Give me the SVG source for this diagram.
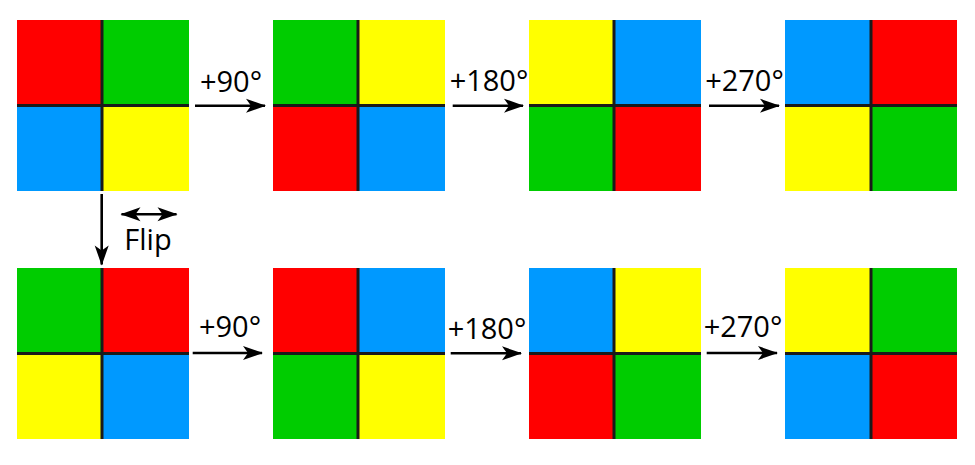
<svg xmlns="http://www.w3.org/2000/svg" width="975" height="465" viewBox="0 0 975 465">
<defs>
<style>
.r{fill:#ff0000}.g{fill:#00cc00}.b{fill:#0099ff}.y{fill:#ffff00}
.div{stroke:#1a1a1a;stroke-width:3;fill:none}
.conn{stroke:#000;stroke-width:2.6;fill:none}
.lbl{font-family:"Open Sans","Noto Sans","Liberation Sans",sans-serif;font-size:29px;fill:#000;text-anchor:middle}
</style>
<marker id="ah" markerUnits="userSpaceOnUse" markerWidth="24" markerHeight="16" viewBox="-20 -8 22 16" refX="0" refY="0" orient="auto-start-reverse">
<path d="M1,0 L-19,-7 L-14,0 L-19,7 Z" fill="#000"/>
</marker>
</defs>
<rect width="975" height="465" fill="#fff"/>

<g id="top1" transform="translate(17,20)">
<rect class="r" width="86" height="86"/><rect class="g" x="86" width="86" height="86"/>
<rect class="b" y="86" width="86" height="85"/><rect class="y" x="86" y="86" width="86" height="85"/>
<path class="div" d="M85,0V171M0,85.5H172"/>
</g>
<g id="top2" transform="translate(273,20)">
<rect class="g" width="86" height="86"/><rect class="y" x="86" width="86" height="86"/>
<rect class="r" y="86" width="86" height="85"/><rect class="b" x="86" y="86" width="86" height="85"/>
<path class="div" d="M85,0V171M0,85.5H172"/>
</g>
<g id="top3" transform="translate(529,20)">
<rect class="y" width="86" height="86"/><rect class="b" x="86" width="86" height="86"/>
<rect class="g" y="86" width="86" height="85"/><rect class="r" x="86" y="86" width="86" height="85"/>
<path class="div" d="M85,0V171M0,85.5H172"/>
</g>
<g id="top4" transform="translate(785,20)">
<rect class="b" width="86" height="86"/><rect class="r" x="86" width="86" height="86"/>
<rect class="y" y="86" width="86" height="85"/><rect class="g" x="86" y="86" width="86" height="85"/>
<path class="div" d="M86,0V171M0,85.5H172"/>
</g>

<g id="bot1" transform="translate(17,268)">
<rect class="g" width="86" height="86"/><rect class="r" x="86" width="86" height="86"/>
<rect class="y" y="86" width="86" height="85"/><rect class="b" x="86" y="86" width="86" height="85"/>
<path class="div" d="M85,0V171M0,85.5H172"/>
</g>
<g id="bot2" transform="translate(273,268)">
<rect class="r" width="86" height="86"/><rect class="b" x="86" width="86" height="86"/>
<rect class="g" y="86" width="86" height="85"/><rect class="y" x="86" y="86" width="86" height="85"/>
<path class="div" d="M85,0V171M0,85.5H172"/>
</g>
<g id="bot3" transform="translate(529,268)">
<rect class="b" width="86" height="86"/><rect class="y" x="86" width="86" height="86"/>
<rect class="r" y="86" width="86" height="85"/><rect class="g" x="86" y="86" width="86" height="85"/>
<path class="div" d="M85,0V171M0,85.5H172"/>
</g>
<g id="bot4" transform="translate(785,268)">
<rect class="y" width="86" height="86"/><rect class="g" x="86" width="86" height="86"/>
<rect class="b" y="86" width="86" height="85"/><rect class="r" x="86" y="86" width="86" height="85"/>
<path class="div" d="M86,0V171M0,85.5H172"/>
</g>

<g id="connectors">
<path class="conn" d="M195,105.7H265" marker-end="url(#ah)"/>
<path class="conn" d="M452.7,105.7H523" marker-end="url(#ah)"/>
<path class="conn" d="M709,105.7H779" marker-end="url(#ah)"/>
<path class="conn" d="M192.7,353H262" marker-end="url(#ah)"/>
<path class="conn" d="M450.7,353.3H521" marker-end="url(#ah)"/>
<path class="conn" d="M706.7,353H777" marker-end="url(#ah)"/>
<path class="conn" d="M101.7,194V264.5" marker-end="url(#ah)"/>
<path class="conn" d="M121.5,214.3H176.5" marker-start="url(#ah)" marker-end="url(#ah)"/>
</g>

<g id="labels">
<text class="lbl" x="231" y="92">+90°</text>
<text class="lbl" x="489" y="91">+180°</text>
<text class="lbl" x="744.5" y="91">+270°</text>
<text class="lbl" x="230" y="337">+90°</text>
<text class="lbl" x="487" y="339">+180°</text>
<text class="lbl" x="743" y="337">+270°</text>
<text class="lbl" x="148" y="250">Flip</text>
</g>
</svg>
